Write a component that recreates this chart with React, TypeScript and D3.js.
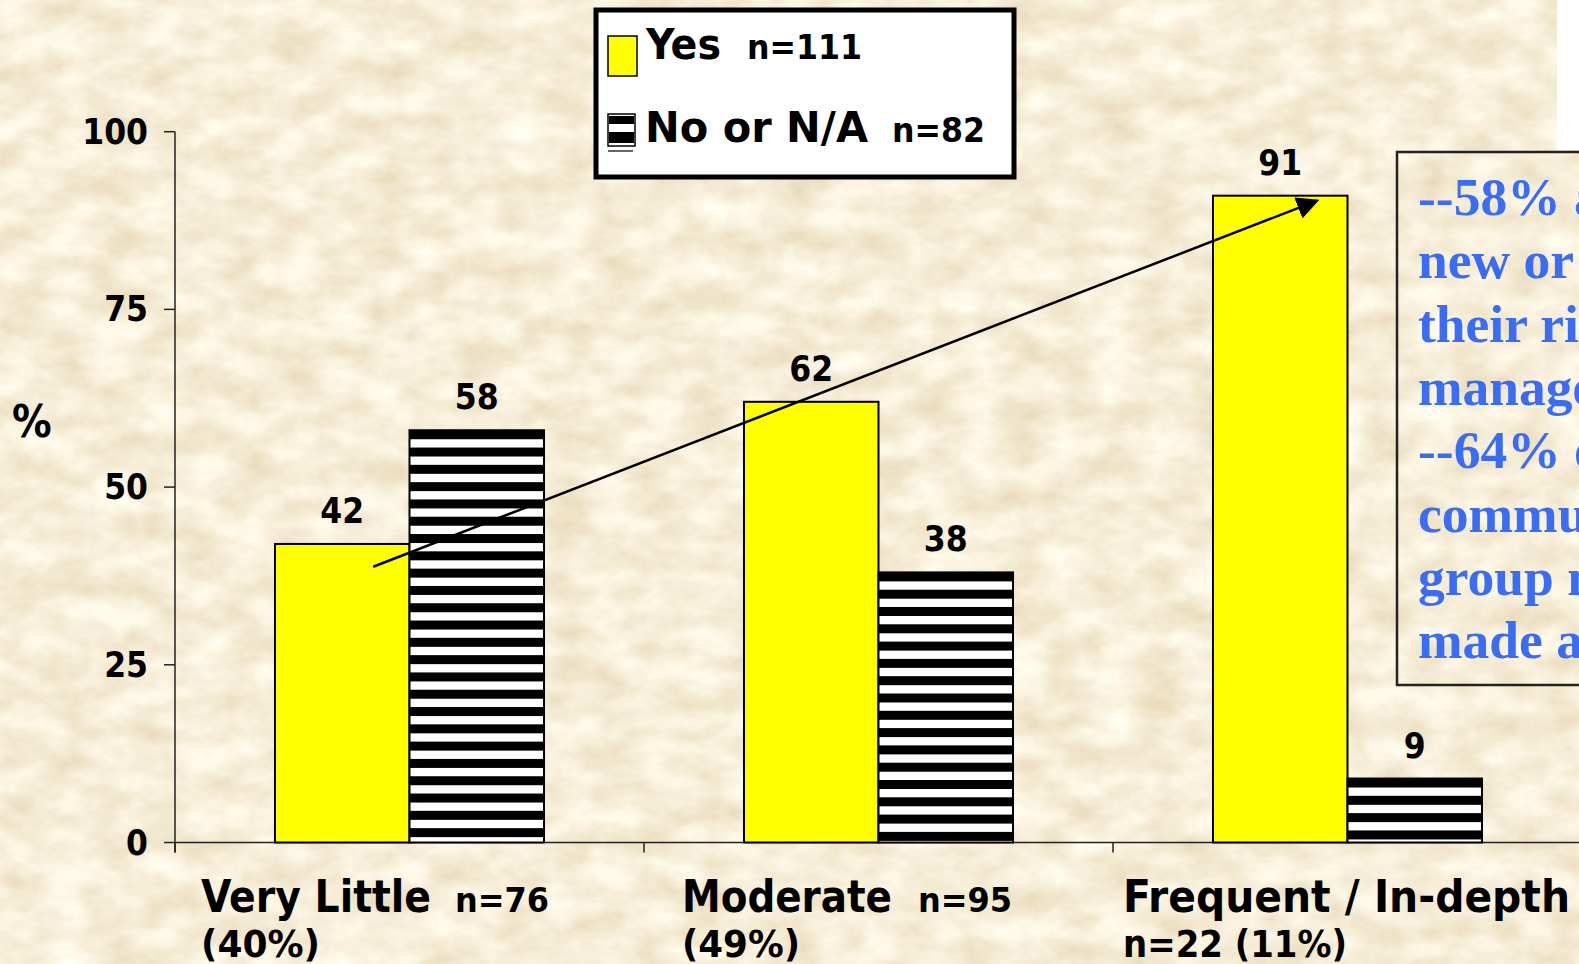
import React from "react";
import * as d3 from "d3";

const categories = ["Very Little", "Moderate", "Frequent / In-depth"];
const categoryN = ["n=76", "n=95", "n=22"];
const categoryShare = ["(40%)", "(49%)", "(11%)"];
const seriesNames = ["Yes", "No or N/A"];
const seriesN = ["n=111", "n=82"];
const yesValues = [42, 62, 91];
const noValues = [58, 38, 9];
const yTicks = [0, 25, 50, 75, 100];
const noteLines = [
  "--58% altered or made",
  "new or revised",
  "their risk",
  "management plans",
  "--64% of",
  "community",
  "group members",
  "made a change",
];

const W = 1579;
const H = 964;
const FONT = "'DejaVu Sans Condensed', 'DejaVu Sans', sans-serif";
const SERIF = "'Liberation Serif', 'DejaVu Serif', serif";

export default function App() {
  const x = d3.scaleBand<string>().domain(categories).range([175, 1582]).padding(0);
  const y = d3.scaleLinear().domain([0, 100]).range([842.5, 131.7]);
  const bw = x.bandwidth();
  const barW = bw * 0.2868;
  const period = 17.3;
  const stripeH = 9;

  // layout of the category labels (text start offset, widths as rendered in the reference)
  const labelDx = [26, 38, 10];
  const nameLen = [230, 210, 447];
  const nLen = [94, 94];
  const nGap = [24, 26];
  const line2Len = [119, 118, 224];

  const center = (c: string) => (x(c) as number) + bw / 2;

  const arrowStart: [number, number] = [center(categories[0]) - barW / 2 + 31, y(38.8)];
  const arrowEnd: [number, number] = [center(categories[2]) - barW / 2 + 37, y(90.3)];

  return (
    <svg
      width={W}
      height={H}
      style={{ position: "absolute", left: 0, top: 0, display: "block" }}
      xmlns="http://www.w3.org/2000/svg"
    >
      <defs>
        <filter id="paper" x="0" y="0" width={W} height={H} filterUnits="userSpaceOnUse">
          <feTurbulence type="fractalNoise" baseFrequency="0.022 0.035" numOctaves="5" seed="11" result="n" />
          <feColorMatrix
            in="n"
            type="matrix"
            values="0.28 0 0 0 0.785
                    0.38 0 0 0 0.665
                    0.50 0 0 0 0.44
                    0 0 0 0 1"
          />
        </filter>
        <marker
          id="arrowhead"
          viewBox="0 0 10 10"
          refX="9"
          refY="5"
          markerWidth="9"
          markerHeight="9"
          markerUnits="strokeWidth"
          orient="auto"
        >
          <path d="M0,0 L10,5 L0,10 z" fill="#000" />
        </marker>
      </defs>

      {/* background */}
      <rect x={0} y={0} width={W} height={H} fill="#EBD8AC" />
      <rect x={0} y={0} width={W} height={H} filter="url(#paper)" />
      <rect x={1557} y={0} width={30} height={150} fill="#fff" />

      {/* y axis */}
      <line x1={175} x2={175} y1={y(100)} y2={y(0) + 10} stroke="#222" strokeWidth={1.5} />
      {yTicks.map((t) => (
        <g key={t}>
          <line x1={164} x2={175} y1={y(t)} y2={y(t)} stroke="#222" strokeWidth={1.5} />
          <text
            x={148}
            y={y(t)}
            textAnchor="end"
            dominantBaseline="central"
            fontFamily={FONT}
            fontWeight="bold"
            fontSize={35}
            fill="#000"
          >
            {t}
          </text>
        </g>
      ))}
      <text x={12} y={437} fontFamily={FONT} fontWeight="bold" fontSize={44} fill="#000">
        %
      </text>

      {/* x axis */}
      <line x1={175} x2={W} y1={y(0)} y2={y(0)} stroke="#222" strokeWidth={1.5} />
      {categories.map((c) => (
        <line key={c} x1={x(c) as number} x2={x(c) as number} y1={y(0)} y2={y(0) + 10} stroke="#222" strokeWidth={1.5} />
      ))}

      {/* bars */}
      {categories.map((c, i) => {
        const cx = center(c);
        const yTop = y(yesValues[i]);
        const nTop = y(noValues[i]);
        const nH = y(0) - nTop;
        const nStripes = Math.ceil(nH / period);
        return (
          <g key={c}>
            <rect x={cx - barW} y={yTop} width={barW} height={y(0) - yTop} fill="#FFFF00" stroke="#000" strokeWidth={2} />
            <rect x={cx} y={nTop} width={barW} height={nH} fill="#fff" />
            {d3.range(nStripes).map((k) => {
              const sy = nTop + k * period;
              const sh = Math.min(stripeH, y(0) - sy);
              return <rect key={k} x={cx} y={sy} width={barW} height={sh} fill="#000" />;
            })}
            <rect x={cx} y={nTop} width={barW} height={nH} fill="none" stroke="#000" strokeWidth={2} />
            <text x={cx - barW / 2} y={yTop - 21} textAnchor="middle" fontFamily={FONT} fontWeight="bold" fontSize={35}>
              {yesValues[i]}
            </text>
            <text x={cx + barW / 2} y={nTop - 21} textAnchor="middle" fontFamily={FONT} fontWeight="bold" fontSize={35}>
              {noValues[i]}
            </text>
          </g>
        );
      })}

      {/* arrow */}
      <line
        x1={arrowStart[0]}
        y1={arrowStart[1]}
        x2={arrowEnd[0]}
        y2={arrowEnd[1]}
        stroke="#000"
        strokeWidth={2.5}
        markerEnd="url(#arrowhead)"
      />

      {/* category labels */}
      {categories.map((c, i) => {
        const lx = (x(c) as number) + labelDx[i];
        if (i < 2) {
          return (
            <g key={c} fontFamily={FONT} fontWeight="bold" fill="#000">
              <text x={lx} y={911.5} fontSize={44} textLength={nameLen[i]} lengthAdjust="spacingAndGlyphs">
                {c}
              </text>
              <text
                x={lx + nameLen[i] + nGap[i]}
                y={911.5}
                fontSize={34}
                textLength={nLen[i]}
                lengthAdjust="spacingAndGlyphs"
              >
                {categoryN[i]}
              </text>
              <text x={lx} y={956.5} fontSize={37} textLength={line2Len[i]} lengthAdjust="spacingAndGlyphs">
                {categoryShare[i]}
              </text>
            </g>
          );
        }
        return (
          <g key={c} fontFamily={FONT} fontWeight="bold" fill="#000">
            <text x={lx} y={911.5} fontSize={44} textLength={nameLen[i]} lengthAdjust="spacingAndGlyphs">
              {c}
            </text>
            <text x={lx} y={956.5} fontSize={37} textLength={line2Len[i]} lengthAdjust="spacingAndGlyphs">
              {categoryN[i] + " " + categoryShare[i]}
            </text>
          </g>
        );
      })}

      {/* legend */}
      <rect x={596} y={10} width={418} height={167} fill="#fff" stroke="#000" strokeWidth={5} />
      <rect x={608} y={36} width={29} height={40} fill="#FFFF00" stroke="#000" strokeWidth={1.5} />
      <g fontFamily={FONT} fontWeight="bold" fill="#000">
        <text x={646} y={59} fontSize={43} textLength={75} lengthAdjust="spacingAndGlyphs">
          {seriesNames[0]}
        </text>
        <text x={747} y={59} fontSize={34} textLength={115} lengthAdjust="spacingAndGlyphs">
          {seriesN[0]}
        </text>
        <text x={645} y={142} fontSize={43} textLength={223} lengthAdjust="spacingAndGlyphs">
          {seriesNames[1]}
        </text>
        <text x={892} y={142} fontSize={34} textLength={93} lengthAdjust="spacingAndGlyphs">
          {seriesN[1]}
        </text>
      </g>
      <rect x={608} y={114} width={27} height={32} fill="#fff" stroke="#000" strokeWidth={1.5} />
      <rect x={609} y={116} width={25} height={8} fill="#000" />
      <rect x={609} y={132} width={25} height={11} fill="#000" />
      <line x1={608} x2={633} y1={151} y2={151} stroke="#000" strokeWidth={1.2} />

      {/* note box */}
      <rect x={1397} y={152} width={400} height={533} fill="none" stroke="#222" strokeWidth={2.5} />
      <g fontFamily={SERIF} fontWeight="bold" fontSize={53.5} fill="#3A6CF4">
        {noteLines.map((l, i) => (
          <text key={i} x={1418} y={215 + i * 63.3}>
            {l}
          </text>
        ))}
      </g>
    </svg>
  );
}
